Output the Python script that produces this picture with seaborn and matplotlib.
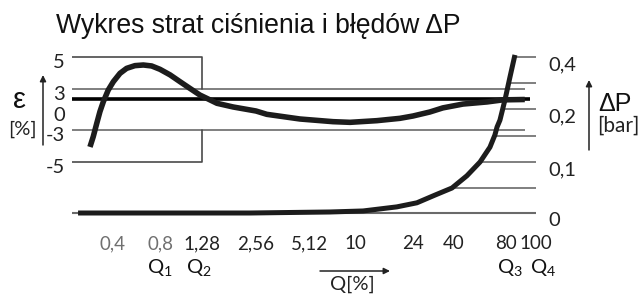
import matplotlib
matplotlib.use("Agg")
import matplotlib.pyplot as plt
from matplotlib.transforms import ScaledTranslation
import numpy as np
import seaborn as sns


# flow axis Q [%]
Q_TICKS = [0.4, 0.8, 1.28, 2.56, 5.12, 10, 24, 40, 80, 100]
Q_LABELS = ["0,4", "0,8", "1,28", "2,56", "5,12", "10", "24", "40", "80", "100"]
Q_NAMES = ["Q_1", "Q_2", "Q_3", "Q_4"]
Q_NAMED = [0.8, 1.28, 80, 100]
Q_MIN, Q2, Q_EPS_END, Q_REF_END, Q_MAX = 0.224, 1.28, 92, 95.7, 100

# error curve eps [%]
EPS_Q = [0.291, 0.305, 0.321, 0.336, 0.353, 0.379, 0.408, 0.449, 0.494, 0.557, 0.629,
         0.709, 0.80, 0.896, 1.0, 1.118, 1.25, 1.36, 1.55, 1.91, 2.56, 2.95, 4.55,
         7.26, 9.3, 13.9, 19.7, 24, 29.6, 34.8, 45.1, 62.1, 76.9, 92]
EPS = [-4.06, -3.42, -2.0, -0.25, 1.19, 2.86, 3.46, 3.98, 4.29, 4.46, 4.5,
       4.44, 4.23, 3.88, 3.46, 3.04, 2.14, 1.67, 0.96, 0.43, -0.15, -0.65, -1.35,
       -1.75, -1.85, -1.6, -1.25, -0.9, -0.3, 0.3, 0.85, 1.15, 1.45, 1.5]
EPS_TICKS = [5, 3, 0, -3, -5]
EPS_LABELS = ["5", "3", "0", "-3", "-5"]
EPS_LOW_LIMIT = 5    # below Q2
EPS_HIGH_LIMIT = 3   # from Q2 up
EPS_REF = 1.6

# pressure loss curve dP [bar]
DP_Q = [0.245, 2.37, 6.95, 11.3, 18.8, 25.2, 31.5, 39.0, 47.5, 56.6, 64.6, 69.0,
        71.0, 73.8, 78.9, 82.4, 85.5]
DP = [0.0, 0.0, 0.002, 0.004, 0.012, 0.020, 0.035, 0.049, 0.073, 0.100, 0.128, 0.151,
      0.166, 0.179, 0.235, 0.323, 0.408]
DP_GRID = [0.05, 0.1, 0.15, 0.2, 0.3, 0.4]
DP_TICKS = [0.4, 0.2, 0.1, 0]
DP_LABELS = ["0,4", "0,2", "0,1", "0"]

# scale breakpoints of the schematic axes (figure pixels)
W, H = 641, 297
BOX = (72, 536, 50, 216)  # left, right, top, bottom
X_BREAK_LOG = np.log10([0.1, 0.4, 0.8, 1.28, 2.56, 5.12, 10, 24, 40, 80, 100, 200])
X_BREAK_PX = [16, 112, 160, 202, 256, 309, 355, 413, 454, 506, 536, 626]
EPS_BREAK = [-9, -5, -3, 0, 3, 5, 7]
EPS_BREAK_PX = [226, 162, 130, 110, 89, 57, 25]
DP_BREAK = [-0.1, 0, 0.1, 0.2, 0.4, 0.6]
DP_BREAK_PX = [264, 213, 162, 109, 57, 5]

INK = "#1c1c1c"
GRID = "#6a6a6a"
SANS = ["Liberation Sans", "DejaVu Sans"]


def x_fwd(q):
    return np.interp(np.log10(np.clip(q, 1e-6, None)), X_BREAK_LOG, X_BREAK_PX)


def x_inv(p):
    return 10 ** np.interp(p, X_BREAK_PX, X_BREAK_LOG)


def eps_fwd(e):
    return -np.interp(e, EPS_BREAK, EPS_BREAK_PX)


def eps_inv(p):
    return np.interp(p, -np.array(EPS_BREAK_PX), EPS_BREAK)


def dp_fwd(d):
    return -np.interp(d, DP_BREAK, DP_BREAK_PX)


def dp_inv(p):
    return np.interp(p, -np.array(DP_BREAK_PX), DP_BREAK)


sns.set_theme(style="white")
plt.rcParams.update({
    "font.family": ["Lato", "DejaVu Sans"],
    "axes.unicode_minus": False,
    "mathtext.fontset": "custom",
    "mathtext.rm": "Lato",
})

fig = plt.figure(figsize=(W / 100, H / 100), dpi=100)
left, right, top, bottom = BOX
ax = fig.add_axes([left / W, (H - bottom) / H, (right - left) / W, (bottom - top) / H])
ax2 = ax.twinx()
for a in (ax, ax2):
    a.set_facecolor("none")
    for s in a.spines.values():
        s.set_visible(False)

# error limits and curve
ax.hlines([EPS_HIGH_LIMIT, -EPS_HIGH_LIMIT], Q_MIN, Q_EPS_END, color=GRID, lw=1.2)
for sign in (1, -1):
    ax.plot([Q_MIN, Q2, Q2], [sign * EPS_LOW_LIMIT, sign * EPS_LOW_LIMIT, sign * EPS_HIGH_LIMIT],
            color="#4a4a4a", lw=1.2)
ax.hlines(EPS_REF, Q_MIN, Q_REF_END, color="black", lw=2.6)
sns.lineplot(x=EPS_Q, y=EPS, ax=ax, color=INK, lw=4.0, solid_capstyle="butt",
             solid_joinstyle="round")

# pressure loss grid and curve
grid_start = np.interp(DP_GRID, DP, DP_Q)
ax2.hlines(DP_GRID, grid_start, Q_MAX, color=GRID, lw=1.2)
ax2.hlines(0, Q_MIN, Q_MAX, color=GRID, lw=1.5)
sns.lineplot(x=DP_Q, y=DP, ax=ax2, color=INK, lw=3.6, solid_capstyle="butt",
             solid_joinstyle="round")

for a in (ax, ax2):
    a.set_xscale("function", functions=(x_fwd, x_inv))
    a.set_xlim(x_inv(left), x_inv(right))
ax.set_yscale("function", functions=(eps_fwd, eps_inv))
ax.set_ylim(eps_inv(-bottom), eps_inv(-top))
ax2.set_yscale("function", functions=(dp_fwd, dp_inv))
ax2.set_ylim(dp_inv(-bottom), dp_inv(-top))

ax.set_xticks(Q_TICKS, Q_LABELS)
ax.set_yticks(EPS_TICKS, EPS_LABELS)
ax2.set_yticks(DP_TICKS, DP_LABELS)
ax.minorticks_off()
ax2.minorticks_off()
ax.tick_params(axis="x", length=0, pad=14, labelsize=13.5, labelcolor="#222222")
ax.tick_params(axis="y", length=0, pad=5, labelsize=14.5, labelcolor="#222222")
ax2.tick_params(axis="y", length=0, pad=9, labelsize=14.5, labelcolor="#222222")
for lab, q in zip(ax.get_xticklabels(), Q_TICKS):
    if q < 1:
        lab.set_color("#707070")
shift = ScaledTranslation(0, -4 / 100, fig.dpi_scale_trans)
for lab in ax.get_yticklabels():
    lab.set_transform(lab.get_transform() + shift)
shift2 = ScaledTranslation(0, -6 / 100, fig.dpi_scale_trans)
for lab in ax2.get_yticklabels():
    lab.set_transform(lab.get_transform() + shift2)
ax.set(xlabel="", ylabel="")
ax2.set(xlabel="", ylabel="")

# Q_1..Q_4 under the ticks
for name, q, dx in zip(Q_NAMES, Q_NAMED, (0, -3, 4, 7)):
    ax.annotate(f"$\\mathregular{{{name}}}$", xy=(q, 0), xycoords=("data", "axes fraction"),
                xytext=(dx, -52), textcoords="offset pixels", ha="center", va="center",
                fontsize=14.5, color="#111111")

# labels, arrows and title in figure pixels
deco = fig.add_axes([0, 0, 1, 1])
deco.set_xlim(0, W)
deco.set_ylim(H, 0)
deco.axis("off")
deco.text(258, 33, "Wykres strat ciśnienia i błędów ΔP", ha="center", va="baseline",
          fontsize=19.2, family=SANS, color="#111111")
deco.text(20, 100, "ε", ha="center", va="center", fontsize=21, family=SANS, color="#111111")
deco.text(22, 129, "[%]", ha="center", va="center", fontsize=14.5, color="#222222")
deco.text(615, 104, "ΔP", ha="center", va="center", fontsize=18, family=SANS, color="#111111")
deco.text(618, 126, "[bar]", ha="center", va="center", fontsize=15, color="#222222")
deco.text(352, 284, "Q[%]", ha="center", va="center", fontsize=14.5, color="#222222")
arrow = dict(arrowstyle="-|>", lw=1.1, color="#222222", mutation_scale=9, shrinkA=0, shrinkB=0)
deco.annotate("", xy=(43, 75), xytext=(43, 145), arrowprops=arrow)
deco.annotate("", xy=(589, 80), xytext=(589, 150), arrowprops=arrow)
deco.annotate("", xy=(390, 271), xytext=(320, 271), arrowprops=arrow)

fig.savefig("out.png", dpi=100, facecolor="white")
